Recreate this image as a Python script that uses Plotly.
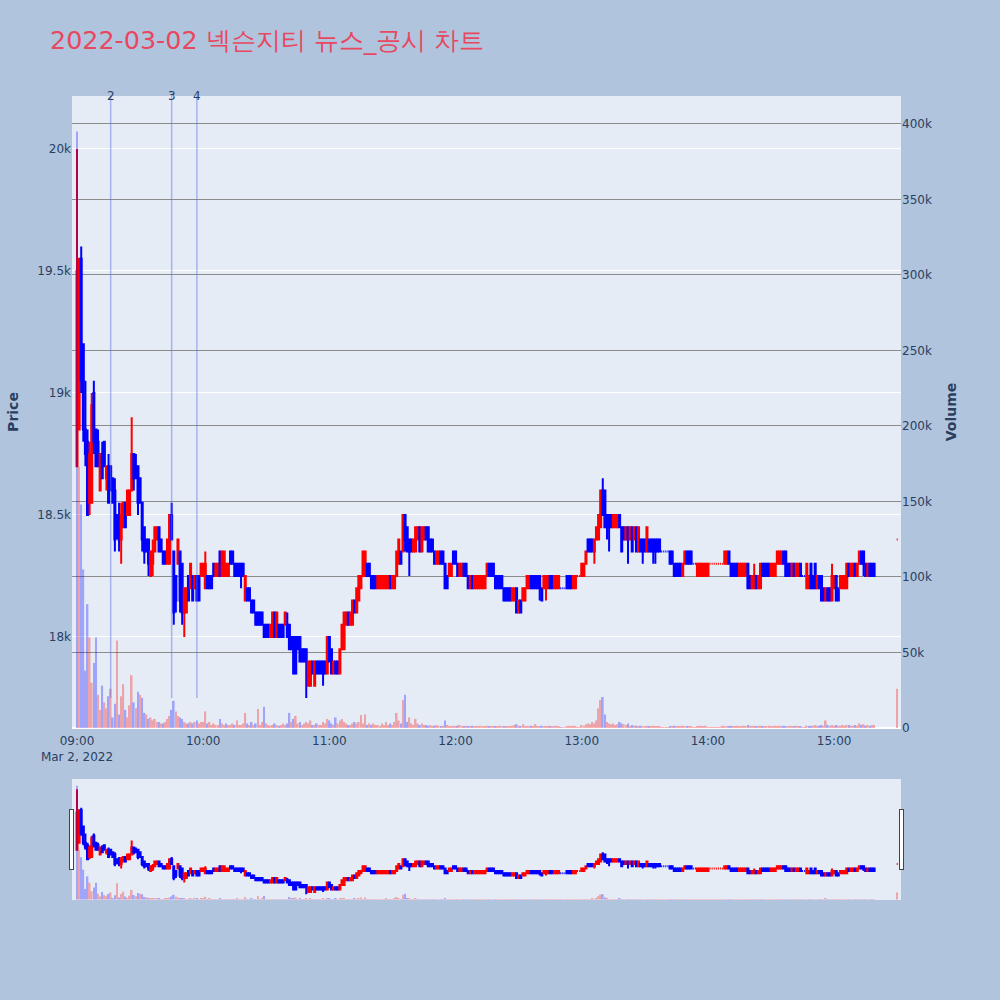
import pandas as pd
import plotly.graph_objects as go
from plotly.subplots import make_subplots

DATE = "2022-03-02"
TITLE = "2022-03-02 넥슨지티 뉴스_공시 차트"

# 1-minute bars 09:00 .. 15:19, then the 15:30 closing print
times = list(pd.date_range(f"{DATE} 09:00", periods=380, freq="min")) + [pd.Timestamp(f"{DATE} 15:30")]

open_ = [
    18700,18850,19550,19200,18850,18800,18550,18550,19000,18850,
    18800,18600,18750,18800,18650,18700,18700,18650,18600,18500,
    18500,18400,18450,18550,18500,18500,18600,18750,18700,18700,
    18650,18550,18450,18400,18400,18250,18300,18350,18400,18450,
    18400,18350,18350,18300,18300,18500,18350,18250,18300,18350,
    18300,18100,18100,18250,18200,18250,18200,18250,18250,18250,
    18250,18200,18250,18250,18250,18300,18250,18250,18350,18250,
    18250,18250,18250,18350,18350,18300,18300,18300,18300,18300,
    18150,18200,18200,18150,18150,18100,18100,18100,18100,18050,
    18050,18050,18000,18000,18100,18000,18050,18050,18050,18050,
    18050,18050,18000,18000,18000,18000,18000,17950,17950,17950,
    17800,17800,17900,17800,17900,17900,17900,17900,17900,17850,
    18000,17950,17850,17900,17900,17850,17950,17950,18050,18100,
    18050,18050,18150,18100,18150,18200,18250,18250,18300,18300,
    18250,18250,18250,18200,18200,18200,18200,18200,18200,18250,
    18200,18200,18250,18300,18350,18350,18500,18450,18400,18400,
    18350,18350,18400,18450,18350,18400,18450,18450,18400,18400,
    18350,18300,18300,18350,18350,18300,18250,18250,18250,18350,
    18350,18300,18250,18250,18300,18300,18250,18200,18250,18200,
    18200,18200,18200,18200,18200,18250,18300,18300,18300,18250,
    18250,18250,18250,18200,18200,18200,18200,18150,18150,18200,
    18100,18150,18150,18150,18200,18200,18250,18250,18250,18250,
    18250,18200,18200,18200,18200,18250,18250,18200,18200,18200,
    18200,18200,18200,18250,18250,18250,18200,18200,18250,18250,
    18250,18250,18300,18400,18400,18400,18350,18400,18400,18450,
    18600,18600,18500,18500,18500,18450,18450,18450,18500,18450,
    18450,18400,18450,18400,18450,18400,18450,18350,18400,18400,
    18400,18350,18400,18400,18400,18400,18400,18400,18350,18350,
    18350,18350,18350,18350,18300,18300,18300,18300,18250,18300,
    18350,18350,18350,18300,18300,18250,18250,18250,18250,18250,
    18250,18300,18300,18300,18300,18300,18300,18300,18300,18300,
    18350,18300,18300,18300,18300,18250,18250,18250,18250,18300,
    18250,18200,18200,18250,18200,18200,18300,18300,18300,18300,
    18250,18250,18250,18300,18300,18300,18350,18350,18300,18300,
    18250,18300,18250,18250,18300,18250,18250,18200,18200,18300,
    18250,18300,18200,18250,18250,18200,18150,18200,18200,18150,
    18200,18250,18200,18200,18200,18200,18200,18300,18250,18250,
    18300,18250,18300,18350,18350,18300,18250,18300,18300,18300,
    18400,
]
high = [
    20000,19550,19600,19200,19050,18850,18800,19000,19050,18850,
    18850,18750,18800,18800,18700,18750,18700,18650,18650,18500,
    18550,18550,18550,18550,18600,18600,18900,18750,18750,18700,
    18650,18550,18450,18400,18400,18350,18400,18450,18450,18450,
    18400,18350,18350,18400,18500,18550,18350,18250,18400,18350,
    18300,18200,18200,18250,18300,18250,18250,18250,18250,18300,
    18300,18350,18250,18250,18250,18300,18300,18300,18350,18350,
    18350,18300,18300,18350,18350,18300,18300,18300,18300,18300,
    18250,18200,18200,18150,18150,18100,18100,18100,18100,18050,
    18050,18050,18050,18100,18100,18100,18050,18050,18050,18100,
    18100,18050,18000,18000,18000,18000,18000,17950,17950,17950,
    17900,17900,17900,17900,17900,17900,17900,17900,17900,18000,
    18000,17950,17900,17900,17900,17950,18050,18100,18100,18100,
    18100,18150,18150,18200,18250,18250,18350,18350,18300,18300,
    18250,18250,18250,18250,18250,18250,18250,18250,18250,18250,
    18250,18250,18350,18400,18350,18500,18500,18450,18400,18400,
    18400,18450,18450,18450,18450,18450,18450,18450,18400,18400,
    18350,18350,18350,18350,18350,18300,18250,18300,18300,18350,
    18350,18300,18300,18300,18300,18300,18250,18250,18250,18250,
    18250,18250,18250,18250,18250,18300,18300,18300,18300,18250,
    18250,18250,18250,18200,18200,18200,18200,18200,18200,18200,
    18150,18150,18200,18200,18250,18250,18250,18250,18250,18250,
    18250,18200,18250,18250,18250,18250,18250,18250,18250,18250,
    18200,18200,18200,18250,18250,18250,18250,18250,18250,18250,
    18300,18300,18350,18400,18400,18400,18400,18450,18500,18600,
    18650,18600,18500,18500,18500,18500,18500,18500,18500,18450,
    18450,18450,18450,18450,18450,18450,18450,18450,18400,18400,
    18400,18450,18400,18400,18400,18400,18400,18400,18350,18350,
    18350,18350,18350,18350,18300,18300,18300,18300,18300,18350,
    18350,18350,18350,18300,18300,18300,18300,18300,18300,18300,
    18300,18300,18300,18300,18300,18300,18300,18300,18350,18350,
    18350,18300,18300,18300,18300,18300,18300,18300,18300,18300,
    18250,18250,18300,18250,18250,18300,18300,18300,18300,18300,
    18300,18300,18300,18350,18350,18350,18350,18350,18300,18300,
    18300,18300,18300,18300,18300,18250,18250,18300,18250,18300,
    18250,18300,18250,18250,18250,18200,18200,18200,18200,18300,
    18250,18250,18200,18250,18250,18250,18300,18300,18300,18300,
    18300,18300,18350,18350,18350,18300,18300,18300,18300,18300,
    18400,
]
low = [
    18700,18850,19000,18800,18700,18500,18500,18550,18750,18700,
    18700,18600,18650,18700,18600,18550,18600,18550,18350,18400,
    18350,18300,18450,18450,18500,18500,18600,18600,18650,18500,
    18550,18350,18300,18350,18250,18250,18250,18350,18400,18350,
    18350,18300,18300,18300,18300,18400,18050,18100,18300,18100,
    18050,18000,18100,18150,18200,18150,18200,18150,18150,18250,
    18250,18200,18200,18200,18200,18250,18250,18250,18250,18250,
    18250,18250,18250,18300,18300,18250,18250,18250,18200,18250,
    18150,18150,18150,18100,18100,18050,18050,18050,18050,18000,
    18000,18000,18000,18000,18000,18000,18000,18000,18000,18050,
    18000,17950,17950,17850,17850,17950,17900,17900,17900,17750,
    17800,17800,17850,17800,17850,17850,17850,17800,17850,17850,
    17900,17850,17850,17850,17850,17850,17950,17950,18050,18050,
    18050,18050,18100,18100,18150,18200,18250,18250,18250,18250,
    18200,18200,18200,18200,18200,18200,18200,18200,18200,18200,
    18200,18200,18250,18300,18300,18350,18350,18350,18250,18350,
    18350,18350,18400,18350,18350,18400,18400,18350,18350,18350,
    18300,18300,18300,18300,18300,18200,18200,18250,18250,18300,
    18300,18250,18250,18250,18250,18250,18200,18200,18200,18200,
    18200,18200,18200,18200,18200,18250,18250,18250,18250,18200,
    18200,18200,18200,18150,18150,18150,18150,18150,18150,18100,
    18100,18100,18150,18150,18200,18200,18200,18200,18200,18200,
    18150,18150,18200,18150,18200,18200,18200,18200,18200,18200,
    18200,18200,18200,18200,18200,18200,18200,18200,18250,18250,
    18250,18250,18300,18350,18350,18350,18300,18400,18400,18450,
    18500,18450,18400,18350,18450,18450,18450,18450,18450,18350,
    18400,18400,18300,18400,18350,18400,18350,18350,18350,18300,
    18350,18350,18350,18350,18300,18300,18350,18350,18350,18350,
    18350,18350,18300,18300,18250,18250,18250,18250,18250,18300,
    18300,18300,18300,18300,18300,18250,18250,18250,18250,18250,
    18250,18300,18300,18300,18300,18300,18300,18300,18300,18300,
    18300,18250,18250,18250,18250,18250,18250,18250,18250,18200,
    18200,18200,18200,18200,18200,18200,18250,18250,18250,18250,
    18250,18250,18250,18300,18300,18300,18300,18250,18250,18250,
    18250,18250,18250,18250,18250,18250,18250,18200,18200,18200,
    18200,18200,18200,18200,18150,18150,18150,18150,18150,18150,
    18200,18150,18150,18200,18200,18200,18200,18250,18250,18250,
    18250,18250,18300,18300,18250,18250,18250,18250,18250,18250,
    18400,
]
close = [
    19500,19550,19050,18850,18750,18500,18750,18950,18800,18700,
    18700,18750,18650,18700,18700,18550,18600,18550,18400,18450,
    18400,18500,18550,18450,18600,18600,18750,18650,18650,18550,
    18550,18400,18350,18350,18300,18350,18350,18450,18450,18350,
    18350,18300,18300,18400,18500,18400,18100,18150,18400,18150,
    18100,18200,18200,18150,18300,18150,18250,18150,18150,18300,
    18300,18300,18200,18200,18200,18250,18300,18300,18250,18350,
    18350,18300,18300,18300,18300,18250,18250,18250,18250,18250,
    18250,18150,18150,18100,18100,18050,18050,18050,18050,18000,
    18000,18000,18050,18100,18000,18100,18000,18000,18000,18100,
    18000,17950,17950,17850,17850,17950,17900,17900,17900,17900,
    17900,17900,17850,17900,17850,17850,17850,17850,17850,18000,
    17900,17850,17900,17850,17850,17950,18050,18100,18100,18050,
    18100,18150,18100,18200,18250,18250,18350,18350,18250,18250,
    18200,18200,18200,18250,18250,18250,18250,18250,18250,18200,
    18250,18250,18350,18400,18300,18500,18400,18350,18350,18350,
    18400,18450,18450,18350,18450,18450,18400,18350,18350,18350,
    18300,18350,18350,18300,18300,18200,18200,18300,18300,18300,
    18300,18250,18300,18300,18250,18250,18200,18250,18200,18250,
    18250,18250,18250,18250,18250,18300,18250,18250,18250,18200,
    18200,18200,18200,18150,18150,18150,18150,18200,18200,18100,
    18150,18100,18200,18200,18250,18250,18200,18200,18200,18200,
    18200,18150,18250,18250,18250,18200,18200,18250,18250,18250,
    18200,18200,18200,18200,18200,18200,18250,18250,18250,18250,
    18300,18300,18350,18350,18350,18350,18400,18450,18500,18600,
    18500,18450,18450,18450,18450,18500,18500,18500,18450,18350,
    18400,18450,18400,18450,18350,18450,18350,18450,18350,18350,
    18350,18450,18350,18350,18350,18350,18350,18350,18350,18350,
    18350,18350,18300,18300,18250,18250,18250,18250,18300,18350,
    18300,18300,18300,18300,18300,18300,18300,18300,18300,18300,
    18300,18300,18300,18300,18300,18300,18300,18300,18350,18350,
    18300,18250,18250,18250,18250,18300,18300,18300,18300,18200,
    18200,18250,18250,18200,18250,18300,18250,18250,18250,18250,
    18300,18300,18300,18350,18350,18350,18300,18250,18250,18250,
    18300,18250,18300,18300,18250,18250,18250,18300,18250,18200,
    18200,18200,18250,18200,18150,18150,18200,18150,18150,18250,
    18250,18150,18150,18250,18250,18250,18300,18250,18300,18300,
    18250,18300,18350,18300,18300,18250,18300,18250,18250,18250,
    18400,
]
volume = [
    395000,173000,148000,105000,38000,82000,60000,30000,43000,60000,
    22000,12000,28000,17000,13000,21000,26000,7000,16000,58000,
    9000,21000,29000,12000,7000,15000,35000,17000,13000,24000,
    22000,20000,10000,9000,6000,7000,5000,6000,4000,4000,
    3000,3000,4000,6000,8000,12000,18000,11000,8000,7000,
    6000,4000,3000,3000,4000,3000,4000,5000,3000,4000,
    4000,11000,3000,4000,2000,3000,2000,2000,6000,3000,
    2000,3000,2000,2000,3000,2000,5000,2000,2000,3000,
    10000,3000,2000,4000,2000,3000,12600,2000,4000,14000,
    3000,2000,1500,2000,3000,2000,1500,2000,3000,2000,
    3000,10000,4000,6000,8000,3000,4000,2000,3000,4000,
    3000,5000,2000,2000,3000,2000,2000,4000,3000,6000,
    5000,3000,2000,7000,3000,5000,6000,4000,3000,2000,
    2000,3000,4000,3000,4000,8600,3000,9000,2000,3000,
    2000,3000,2000,2000,1500,3000,2000,4000,2000,3000,
    2000,4000,10000,5000,3000,18500,22000,4000,7000,3000,
    2000,6000,3000,2000,3000,2000,2000,1500,2000,1500,
    1500,2000,1500,1000,1500,5000,2000,1500,1000,1500,
    1000,1500,2000,1000,1000,1500,1000,1000,1500,1000,
    1000,1000,1500,1000,1000,1500,1000,1000,1000,1000,
    1000,1500,1000,1000,1000,1000,1000,1500,2000,2500,
    1500,1000,2500,1500,1000,1000,1500,1000,2500,1000,
    1000,1500,1000,1000,1500,1000,1000,1000,1500,1000,
    500,500,500,1000,1500,1000,1500,1000,500,500,
    2000,1500,2500,3000,2500,4000,3000,5000,13000,18500,
    20500,9000,4000,3000,2500,3000,2000,2500,4000,3000,
    2500,2000,3000,1500,2000,1500,1500,1000,1500,1000,
    1000,1500,1000,1000,1500,1000,1000,1000,500,500,
    500,500,1000,1000,1500,1000,1000,1000,1500,1000,
    1000,1000,1000,500,500,1000,1500,1000,1000,1500,
    500,500,500,500,500,500,500,1500,1000,1000,
    1000,1500,1000,1000,1500,1000,1000,1500,1000,2000,
    1500,1000,1500,1000,1000,1500,1000,1000,1000,1500,
    1000,1000,1500,1000,1500,1000,1500,1000,1000,1500,
    1000,1000,1500,1000,1000,500,500,1500,1000,1500,
    1500,2000,1500,1500,2000,1500,5000,2000,1500,2000,
    1500,2000,1500,1500,2000,1500,2000,2000,1500,1500,
    2000,1500,3000,2000,2500,1500,2000,1500,2000,2000,
    26000,
]

# news / disclosure markers
news_times = [f"{DATE} 09:16", f"{DATE} 09:45", f"{DATE} 09:57"]
news_labels = ["2", "3", "4"]

UP, DOWN = "#FF0000", "#0000FF"
PRICE_RANGE = [17627, 20217]
X_RANGE = [f"{DATE} 08:57:37", f"{DATE} 15:31:48"]

vol_colors = [DOWN] + [UP if close[i] >= close[i - 1] else DOWN for i in range(1, len(close))]

fig = make_subplots(specs=[[{"secondary_y": True}]])
fig.add_trace(go.Candlestick(
    x=times, open=open_, high=high, low=low, close=close,
    increasing=dict(line=dict(color=UP, width=2), fillcolor=UP),
    decreasing=dict(line=dict(color=DOWN, width=2), fillcolor=DOWN),
    showlegend=False, name="Price"), secondary_y=False)
fig.add_trace(go.Bar(
    x=times, y=volume, marker=dict(color=vol_colors, line=dict(width=0)),
    opacity=0.3, showlegend=False, name="Volume"), secondary_y=True)

for t, lab in zip(news_times, news_labels):
    fig.add_shape(type="line", xref="x", yref="y", x0=t, x1=t,
                  y0=min(low), y1=PRICE_RANGE[1],
                  line=dict(color="rgba(90,110,225,0.45)", width=1.5))
    fig.add_annotation(x=t, xref="x", y=1, yref="paper", text=lab,
                       showarrow=False, yanchor="middle",
                       font=dict(size=12, color="#2a3f5f"))

fig.update_layout(
    width=1000, height=1000, autosize=False,
    paper_bgcolor="#B0C4DE", plot_bgcolor="#E5ECF6",
    font=dict(family="DejaVu Sans", size=12, color="#2a3f5f"),
    title=dict(text=TITLE, x=0.05, xanchor="left", y=0.96, yanchor="middle",
               font=dict(size=25.4, color="#E8485F")),
    margin=dict(l=72, r=99, t=96, b=100),
    showlegend=False,
    bargap=0.2,
)
fig.update_xaxes(domain=[0, 1], range=X_RANGE, showgrid=False,
                 automargin=False, ticks="outside", ticklen=2,
                 tickcolor="rgba(0,0,0,0)",
                 rangeslider=dict(visible=True, thickness=0.15, bgcolor="#E5ECF6",
                                  range=X_RANGE))
fig.update_yaxes(title_text="<b>Price</b>", range=PRICE_RANGE, gridcolor="white",
                 automargin=False, secondary_y=False)
fig.update_yaxes(title_text="<b>Volume</b>", range=[0, 418500], gridcolor="#8c8c8c",
                 showgrid=True, automargin=False, secondary_y=True)

fig.write_html("out.html", config={"displayModeBar": False},
               post_script="document.body.style.margin='0';")
